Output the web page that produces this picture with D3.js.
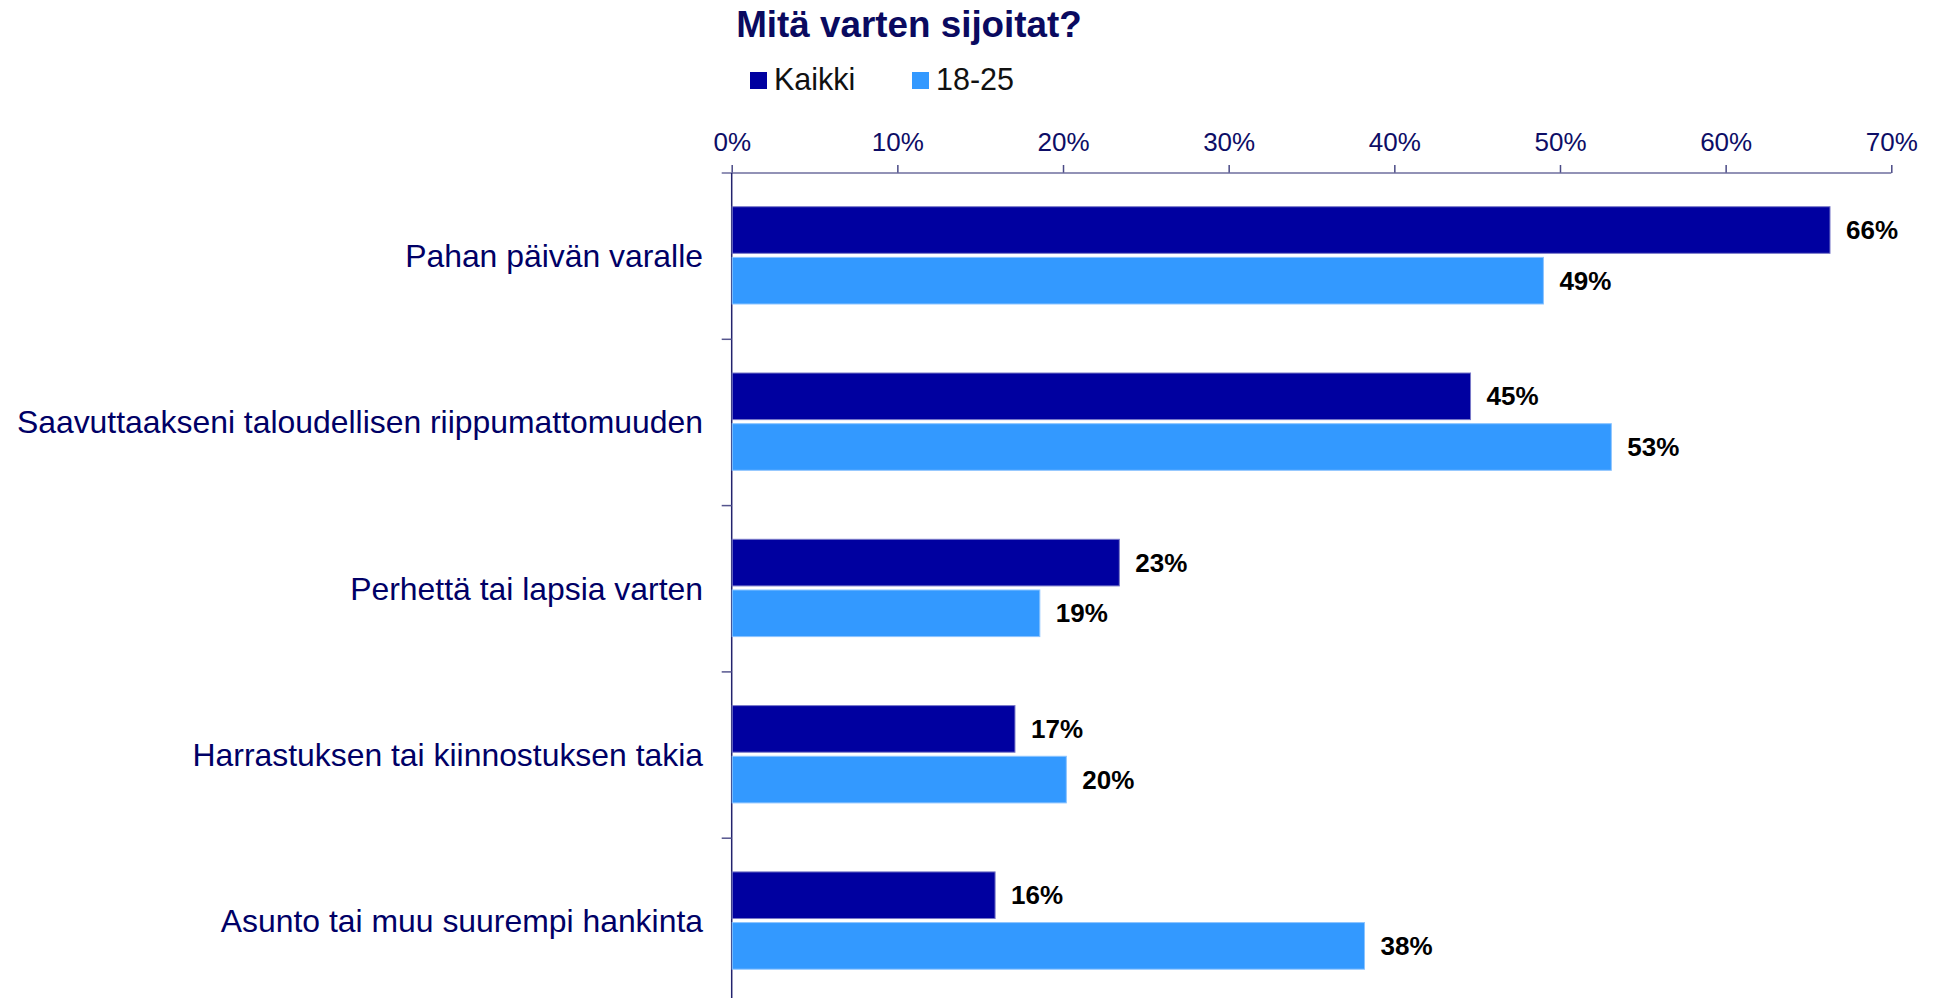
<!DOCTYPE html>
<html>
<head>
<meta charset="utf-8">
<script src="https://cdn.jsdelivr.net/npm/d3@7"></script>
<style>
  html, body { margin: 0; padding: 0; background: #fff; }
  #chart { width: 1935px; height: 998px; }
  text { font-family: "Liberation Sans", Arial, sans-serif; }
</style>
</head>
<body>
<div id="chart"></div>
<script>
const categories = [
  "Pahan päivän varalle",
  "Saavuttaakseni taloudellisen riippumattomuuden",
  "Perhettä tai lapsia varten",
  "Harrastuksen tai kiinnostuksen takia",
  "Asunto tai muu suurempi hankinta"
];
const seriesNames = ["Kaikki", "18-25"];
const kaikkiValues = [66.3, 44.6, 23.4, 17.1, 15.9];
const nuoretValues = [49.0, 53.1, 18.6, 20.2, 38.2];
const xTicks = [0, 10, 20, 30, 40, 50, 60, 70];
const title = "Mitä varten sijoitat?";

document.addEventListener("DOMContentLoaded", () => {
  const width = 1935, height = 998;
  const left = 731.7, right = 1891.3, top = 173;
  const bandH = 166.3;

  const svg = d3.select("#chart")
    .append("svg")
    .attr("width", width)
    .attr("height", height);

  const rows = categories.map((c, i) => ({
    cat: c,
    vals: [
      { s: seriesNames[0], v: kaikkiValues[i] },
      { s: seriesNames[1], v: nuoretValues[i] }
    ]
  }));

  const xScale = d3.scaleLinear().domain([0, 70]).range([left, right]);
  const yScale = d3.scaleBand().domain(categories)
    .range([top, top + bandH * categories.length]);
  const ySub = d3.scaleBand().domain(seriesNames)
    .range([33.7, 131]).paddingInner(0.08);
  const cScale = d3.scaleOrdinal().domain(seriesNames).range(["#0000a0", "#3399ff"]);
  const strokeScale = d3.scaleOrdinal().domain(seriesNames).range(["#7a7ac8", "#8cc4ff"]);

  // title
  svg.append("text")
    .attr("x", 909)
    .attr("y", 37)
    .attr("text-anchor", "middle")
    .style("font-size", "36.8px")
    .style("font-weight", "bold")
    .style("fill", "#0a0a60")
    .text(title);

  // legend
  const legendX = [750, 912];
  const lg = svg.selectAll(".legend")
    .data(seriesNames)
    .enter()
    .append("g")
    .attr("class", "legend")
    .attr("transform", (d, i) => `translate(${legendX[i]},72)`);
  lg.append("rect")
    .attr("width", 17).attr("height", 17)
    .attr("fill", d => cScale(d));
  lg.append("text")
    .attr("x", 24).attr("y", 18)
    .style("font-size", "30.5px")
    .style("fill", "#111")
    .text(d => d);

  // x axis on top
  const xAxis = d3.axisTop(xScale)
    .tickValues(xTicks)
    .tickSize(8)
    .tickSizeOuter(8)
    .tickPadding(14)
    .tickFormat(d => d + "%");
  const xAxisG = svg.append("g")
    .attr("transform", `translate(0,${top})`)
    .call(xAxis);
  xAxisG.select(".domain").remove();
  xAxisG.append("line")
    .attr("x1", left - 10).attr("x2", right)
    .attr("stroke", "#6e6e9e").attr("stroke-width", 1.5);
  xAxisG.selectAll(".tick line").attr("stroke", "#4a4a86").attr("stroke-width", 1.5);
  xAxisG.selectAll(".tick text")
    .style("font-size", "26px")
    .style("font-family", "'Liberation Sans', Arial, sans-serif")
    .style("fill", "#0d0d66");

  // y axis line and band ticks
  svg.append("line")
    .attr("x1", left).attr("x2", left)
    .attr("y1", top).attr("y2", height)
    .attr("stroke", "#23236e").attr("stroke-width", 1.5);
  svg.selectAll(".ytick")
    .data(categories.slice(1))
    .enter()
    .append("line")
    .attr("class", "ytick")
    .attr("x1", left - 10).attr("x2", left)
    .attr("y1", d => yScale(d)).attr("y2", d => yScale(d))
    .attr("stroke", "#55558e").attr("stroke-width", 1.5);

  // category labels
  svg.selectAll(".catLabel")
    .data(categories)
    .enter()
    .append("text")
    .attr("class", "catLabel")
    .attr("x", 703)
    .attr("y", d => yScale(d) + yScale.bandwidth() / 2)
    .attr("text-anchor", "end")
    .attr("dominant-baseline", "central")
    .style("font-size", "31.9px")
    .style("fill", "#000066")
    .text(d => d);

  // bars
  const groups = svg.selectAll(".row")
    .data(rows)
    .enter()
    .append("g")
    .attr("class", "row")
    .attr("transform", d => `translate(0,${yScale(d.cat)})`);

  groups.selectAll("rect")
    .data(d => d.vals)
    .enter()
    .append("rect")
    .attr("x", xScale(0) + 0.5)
    .attr("y", d => ySub(d.s))
    .attr("width", d => xScale(d.v) - xScale(0) - 0.5)
    .attr("height", ySub.bandwidth())
    .attr("fill", d => cScale(d.s))
    .attr("stroke", d => strokeScale(d.s))
    .attr("stroke-width", 1);

  groups.selectAll(".valLabel")
    .data(d => d.vals)
    .enter()
    .append("text")
    .attr("class", "valLabel")
    .attr("x", d => xScale(d.v) + 16)
    .attr("y", d => ySub(d.s) + ySub.bandwidth() / 2)
    .attr("dominant-baseline", "central")
    .style("font-size", "26px")
    .style("font-weight", "bold")
    .style("fill", "#000")
    .text(d => Math.round(d.v) + "%");
});
</script>
</body>
</html>
